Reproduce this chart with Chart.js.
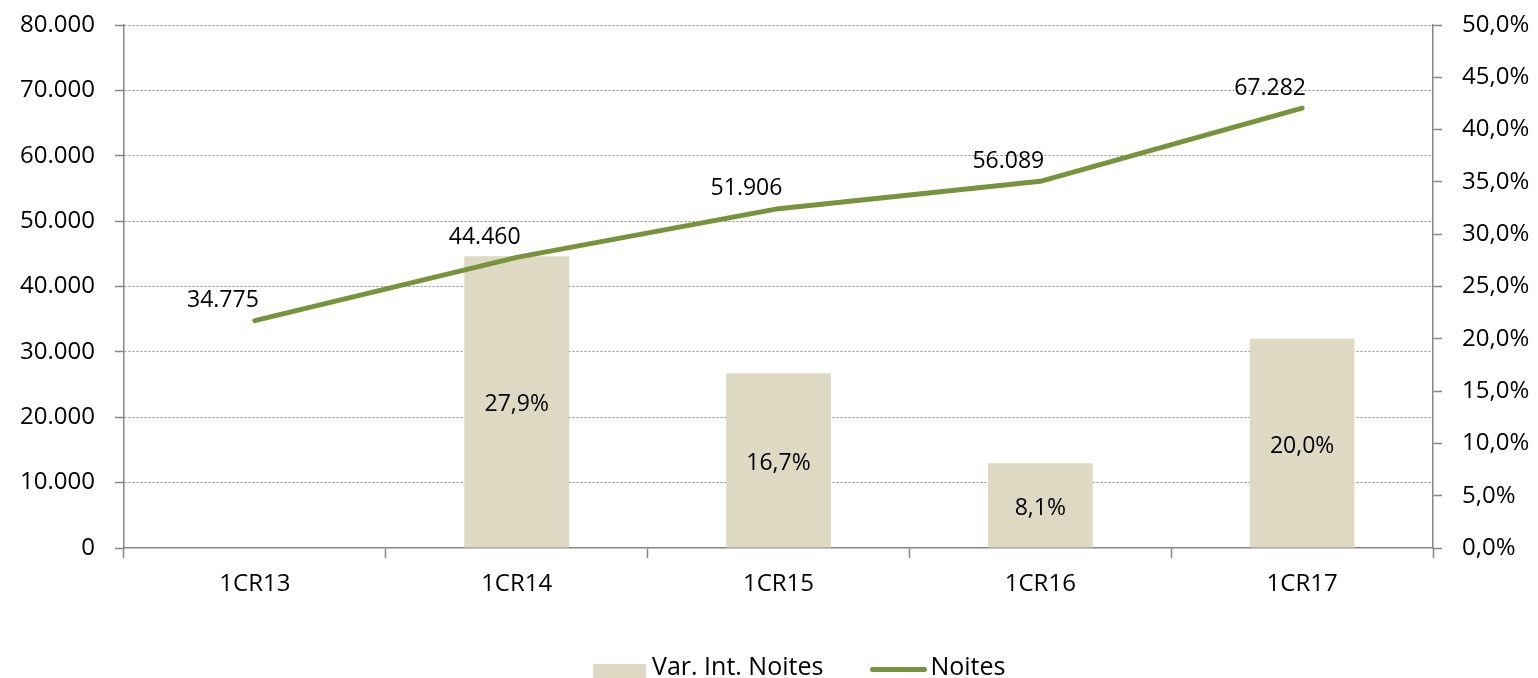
<!DOCTYPE html>
<html lang="pt">
<head>
  <meta charset="UTF-8">
  <title>Noites 1CR13-1CR17</title>
  <script src="https://cdn.jsdelivr.net/npm/chart.js"></script>
  <style>
    html, body {
      margin: 0;
      padding: 0;
      background: #fff;
      overflow: hidden;
    }
    .wrap {
      position: relative;
      width: 1538px;
      height: 678px;
    }
    #legend {
      position: absolute;
      left: 593px;
      top: 653px;
      display: flex;
      align-items: center;
      font-family: "Open Sans", sans-serif;
      font-size: 25px;
      line-height: 25px;
      color: #000;
      white-space: nowrap;
    }
    #legend .item { display: flex; align-items: center; margin-right: 47px; }
    #legend .box { width: 53px; height: 18px; margin-right: 6px; position: relative; top: 7px; }
    #legend .line { width: 57px; height: 5px; border-radius: 3px; margin-right: 3px; position: relative; top: 4px; }
  </style>
</head>
<body>
<div class="wrap">
  <canvas id="chart" width="1538" height="678"></canvas>
  <div id="legend"></div>
</div>

<script>
  // values
  const categories = ['1CR13', '1CR14', '1CR15', '1CR16', '1CR17'];
  const noites = [34775, 44460, 51906, 56089, 67282];
  const varIntNoites = [null, 27.9, 16.7, 8.1, 20.0];

  const barColor = '#DDD9C3';
  const lineColor = '#77933C';
  const axisColor = '#868686';
  const gridColor = '#8c8c8c';
  const fontFamily = '"Open Sans", sans-serif';

  function fmtThousands(v) {
    return String(Math.round(v)).replace(/\B(?=(\d{3})+(?!\d))/g, '.');
  }
  function fmtPct(v) {
    return v.toFixed(1).replace('.', ',') + '%';
  }

  // draws the value labels next to the points / inside the bars
  const valueLabels = {
    id: 'valueLabels',
    afterDatasetsDraw(chart) {
      const ctx = chart.ctx;
      ctx.save();
      ctx.font = '23px ' + fontFamily;
      ctx.fillStyle = '#000';
      ctx.textAlign = 'center';
      ctx.textBaseline = 'middle';
      chart.data.datasets.forEach((ds, i) => {
        const meta = chart.getDatasetMeta(i);
        meta.data.forEach((el, j) => {
          const v = ds.data[j];
          if (v == null) return;
          if (ds.type === 'line') {
            ctx.fillText(fmtThousands(v), el.x - 32, el.y - 20);
          } else {
            ctx.fillText(fmtPct(v), el.x, (el.y + el.base) / 2 + 3);
          }
        });
      });
      ctx.restore();
    }
  };

  // fixed axis sizes so the plot area sits where it does in the original
  function fixVertical(width) {
    return s => {
      s.width = width;
      s.paddingTop = 0;
      s.paddingBottom = 0;
    };
  }

  const chart = new Chart(document.getElementById('chart'), {
    type: 'bar',
    data: {
      labels: categories,
      datasets: [
        {
          type: 'line',
          label: 'Noites',
          data: noites,
          yAxisID: 'y',
          borderColor: lineColor,
          backgroundColor: lineColor,
          borderWidth: 5,
          borderCapStyle: 'round',
          borderJoinStyle: 'round',
          pointRadius: 0,
          tension: 0,
          order: 1
        },
        {
          type: 'bar',
          label: 'Var. Int. Noites',
          data: varIntNoites,
          yAxisID: 'y2',
          backgroundColor: barColor,
          barPercentage: 0.4,
          categoryPercentage: 1,
          order: 2
        }
      ]
    },
    options: {
      responsive: false,
      animation: false,
      layout: { padding: { top: 25, left: 0, right: 0, bottom: 0 } },
      plugins: {
        legend: { display: false },
        tooltip: { enabled: false }
      },
      scales: {
        x: {
          offset: true,
          grid: {
            offset: true,
            drawOnChartArea: false,
            drawTicks: true,
            tickLength: 10,
            tickWidth: 1.5,
            color: axisColor
          },
          border: { color: axisColor, width: 1.5 },
          ticks: { color: '#000', font: { family: fontFamily, size: 24 }, padding: 12 },
          afterFit(s) { s.height = 130; s.paddingLeft = 0; s.paddingRight = 0; }
        },
        y: {
          position: 'left',
          min: 0,
          max: 80000,
          ticks: {
            stepSize: 10000,
            color: '#000',
            padding: 20,
            font: { family: fontFamily, size: 24 },
            callback: v => fmtThousands(v)
          },
          grid: {
            color: c => (c.tick && c.tick.value === 0 ? 'rgba(0,0,0,0)' : gridColor),
            lineWidth: 1,
            tickLength: 9,
            tickWidth: 1.5,
            tickColor: axisColor
          },
          border: { color: axisColor, width: 1.5, dash: [2, 2] },
          afterFit: fixVertical(124)
        },
        y2: {
          position: 'right',
          min: 0,
          max: 50,
          ticks: {
            stepSize: 5,
            color: '#000',
            padding: 20,
            font: { family: fontFamily, size: 24 },
            callback: v => fmtPct(v)
          },
          grid: {
            drawOnChartArea: false,
            tickLength: 9,
            tickWidth: 1.5,
            color: axisColor
          },
          border: { color: axisColor, width: 1.5 },
          afterFit: fixVertical(105)
        }
      }
    },
    plugins: [valueLabels]
  });

  // legend as html, bar first then line like the original
  const legend = document.getElementById('legend');
  [chart.data.datasets[1], chart.data.datasets[0]].forEach(ds => {
    const item = document.createElement('div');
    item.className = 'item';
    const mark = document.createElement('span');
    mark.className = ds.type === 'line' ? 'line' : 'box';
    mark.style.background = ds.type === 'line' ? ds.borderColor : ds.backgroundColor;
    const txt = document.createElement('span');
    txt.textContent = ds.label;
    item.appendChild(mark);
    item.appendChild(txt);
    legend.appendChild(item);
  });
</script>
</body>
</html>
